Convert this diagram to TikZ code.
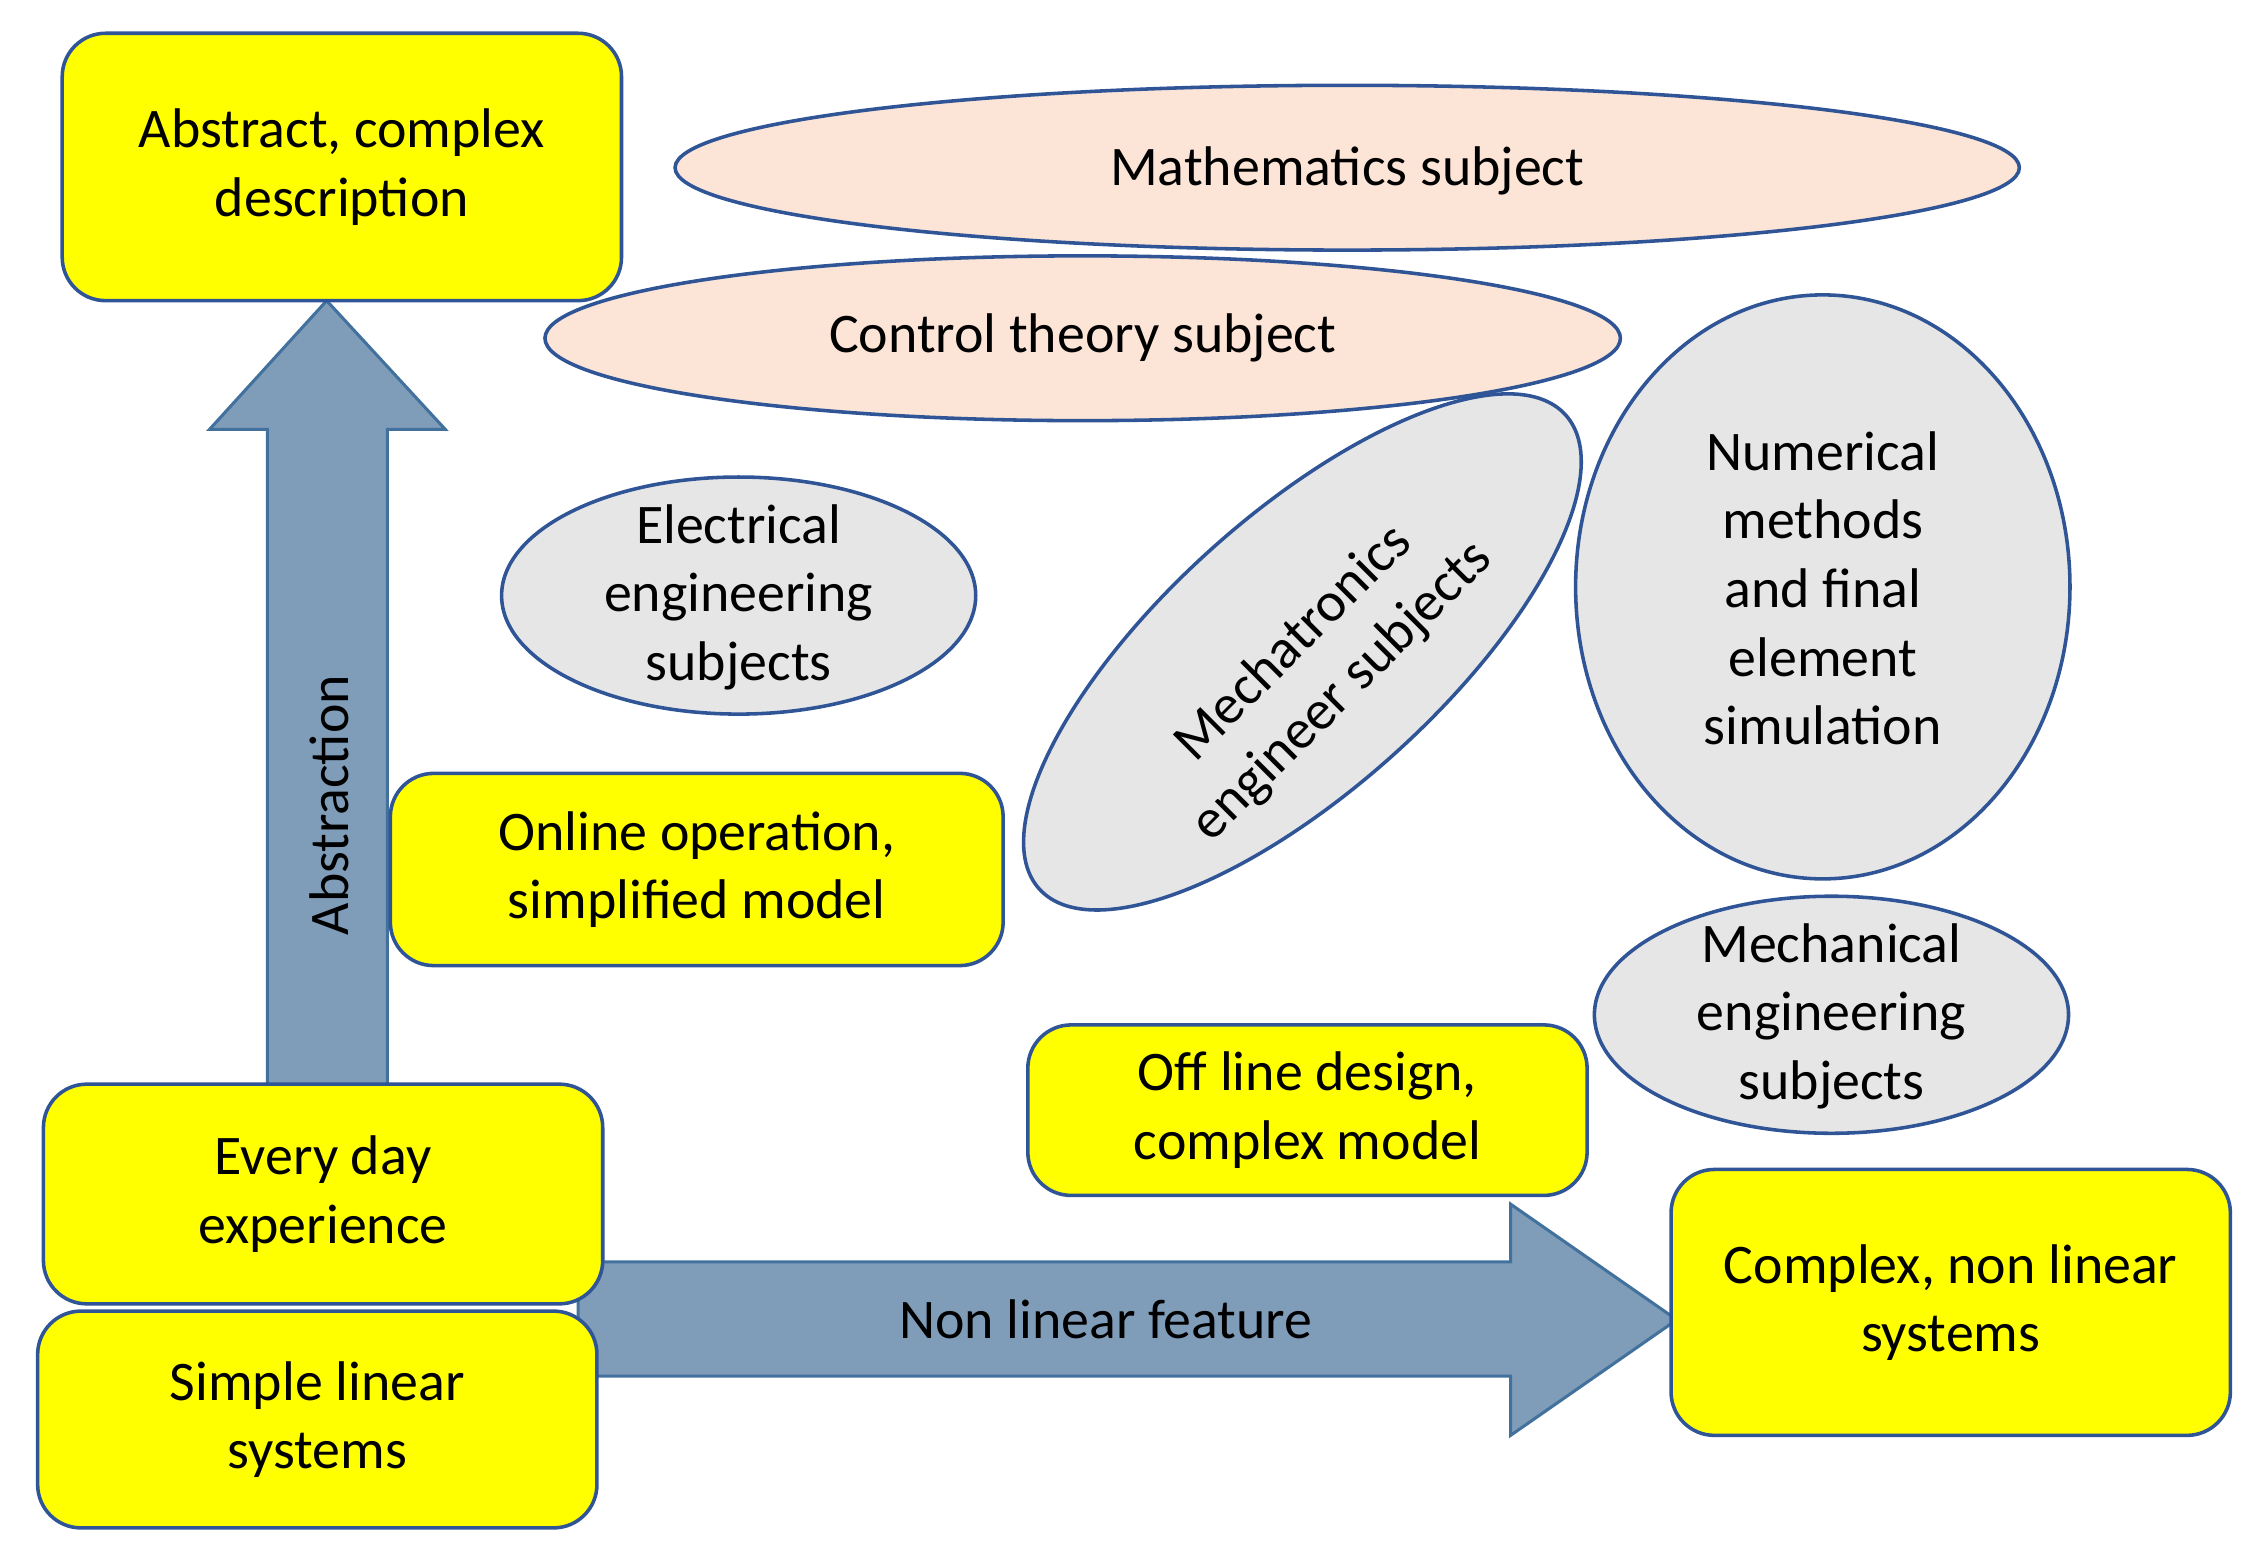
\documentclass[tikz,border=0pt]{standalone}
\usepackage{fontspec}
\setmainfont{Carlito}
\begin{document}
\begin{tikzpicture}[x=0.02cm,y=-0.02cm,
  fnt/.style={font=\fontsize{22}{27}\selectfont},
  box/.style={draw=bord,line width=1.4pt,fill=yel,rounded corners=0.6cm,align=center,fnt,inner sep=0pt},
  arr/.style={draw=arrb,line width=1.2pt,fill=arrf},
  el/.style={bord,line width=1.4pt}]
\definecolor{yel}{HTML}{FFFF00}
\definecolor{bord}{HTML}{2F5597}
\definecolor{arrf}{HTML}{7F9DB9}
\definecolor{arrb}{HTML}{41719C}
\definecolor{pch}{HTML}{FCE4D6}
\definecolor{gry}{HTML}{E7E6E6}
\useasboundingbox (0,0) rectangle (1560,1082);
% arrows
\draw[arr] (185,760) -- (185,297) -- (145,297) -- (226,208) -- (308,297) -- (268,297) -- (268,760) -- cycle;
\draw[arr] (400,873) -- (1045,873) -- (1045,833) -- (1160,913) -- (1045,993) -- (1045,952) -- (400,952) -- cycle;
\node[rotate=90,fnt] (abs) at (228,557) {Abstraction};
\node[fnt] (nlf) at (765,913) {Non linear feature};
% ellipses
\draw[el,fill=pch] (932,116) ellipse [x radius=465,y radius=57];
\node[fnt] (math) at (932,118) {Mathematics subject};
\draw[el,fill=pch] (749,234) ellipse [x radius=372,y radius=57];
\node[fnt] (ctrl) at (749,234) {Control theory subject};
\draw[el,fill=gry] (511,412) ellipse [x radius=164,y radius=82];
\node[align=center,fnt] (elec) at (511,413) {Electrical\\engineering\\subjects};
\draw[el,fill=gry,rotate around={42:(901,451)}] (901,451) ellipse [x radius=245,y radius=95];
\node[align=center,rotate=45,fnt] (mech) at (912,462) {Mechatronics\\engineer subjects};
\draw[el,fill=gry] (1261,406) ellipse [x radius=171,y radius=202];
\node[align=center,fnt] (num) at (1261,407) {Numerical\\methods\\and final\\element\\simulation};
\draw[el,fill=gry] (1267,702) ellipse [x radius=164,y radius=82];
\node[align=center,fnt] (mecheng) at (1267,703) {Mechanical\\engineering\\subjects};
% boxes
\node[box,minimum width=7.74cm,minimum height=3.7cm] (a) at (236.5,115.5) {Abstract, complex\\description};
\node[box,minimum width=8.48cm,minimum height=2.66cm] (on) at (482,601.5) {Online operation,\\simplified model};
\node[box,minimum width=7.74cm,minimum height=2.36cm] (off) at (904.5,768) {Off line design,\\complex model};
\node[box,minimum width=7.74cm,minimum height=3.04cm] (ev) at (223.5,826) {Every day\\experience};
\node[box,minimum width=7.74cm,minimum height=3.0cm] (sl) at (219.5,982) {Simple linear\\systems};
\node[box,minimum width=7.74cm,minimum height=3.68cm] (cx) at (1349.5,901) {Complex, non linear\\systems};
\end{tikzpicture}
\end{document}
